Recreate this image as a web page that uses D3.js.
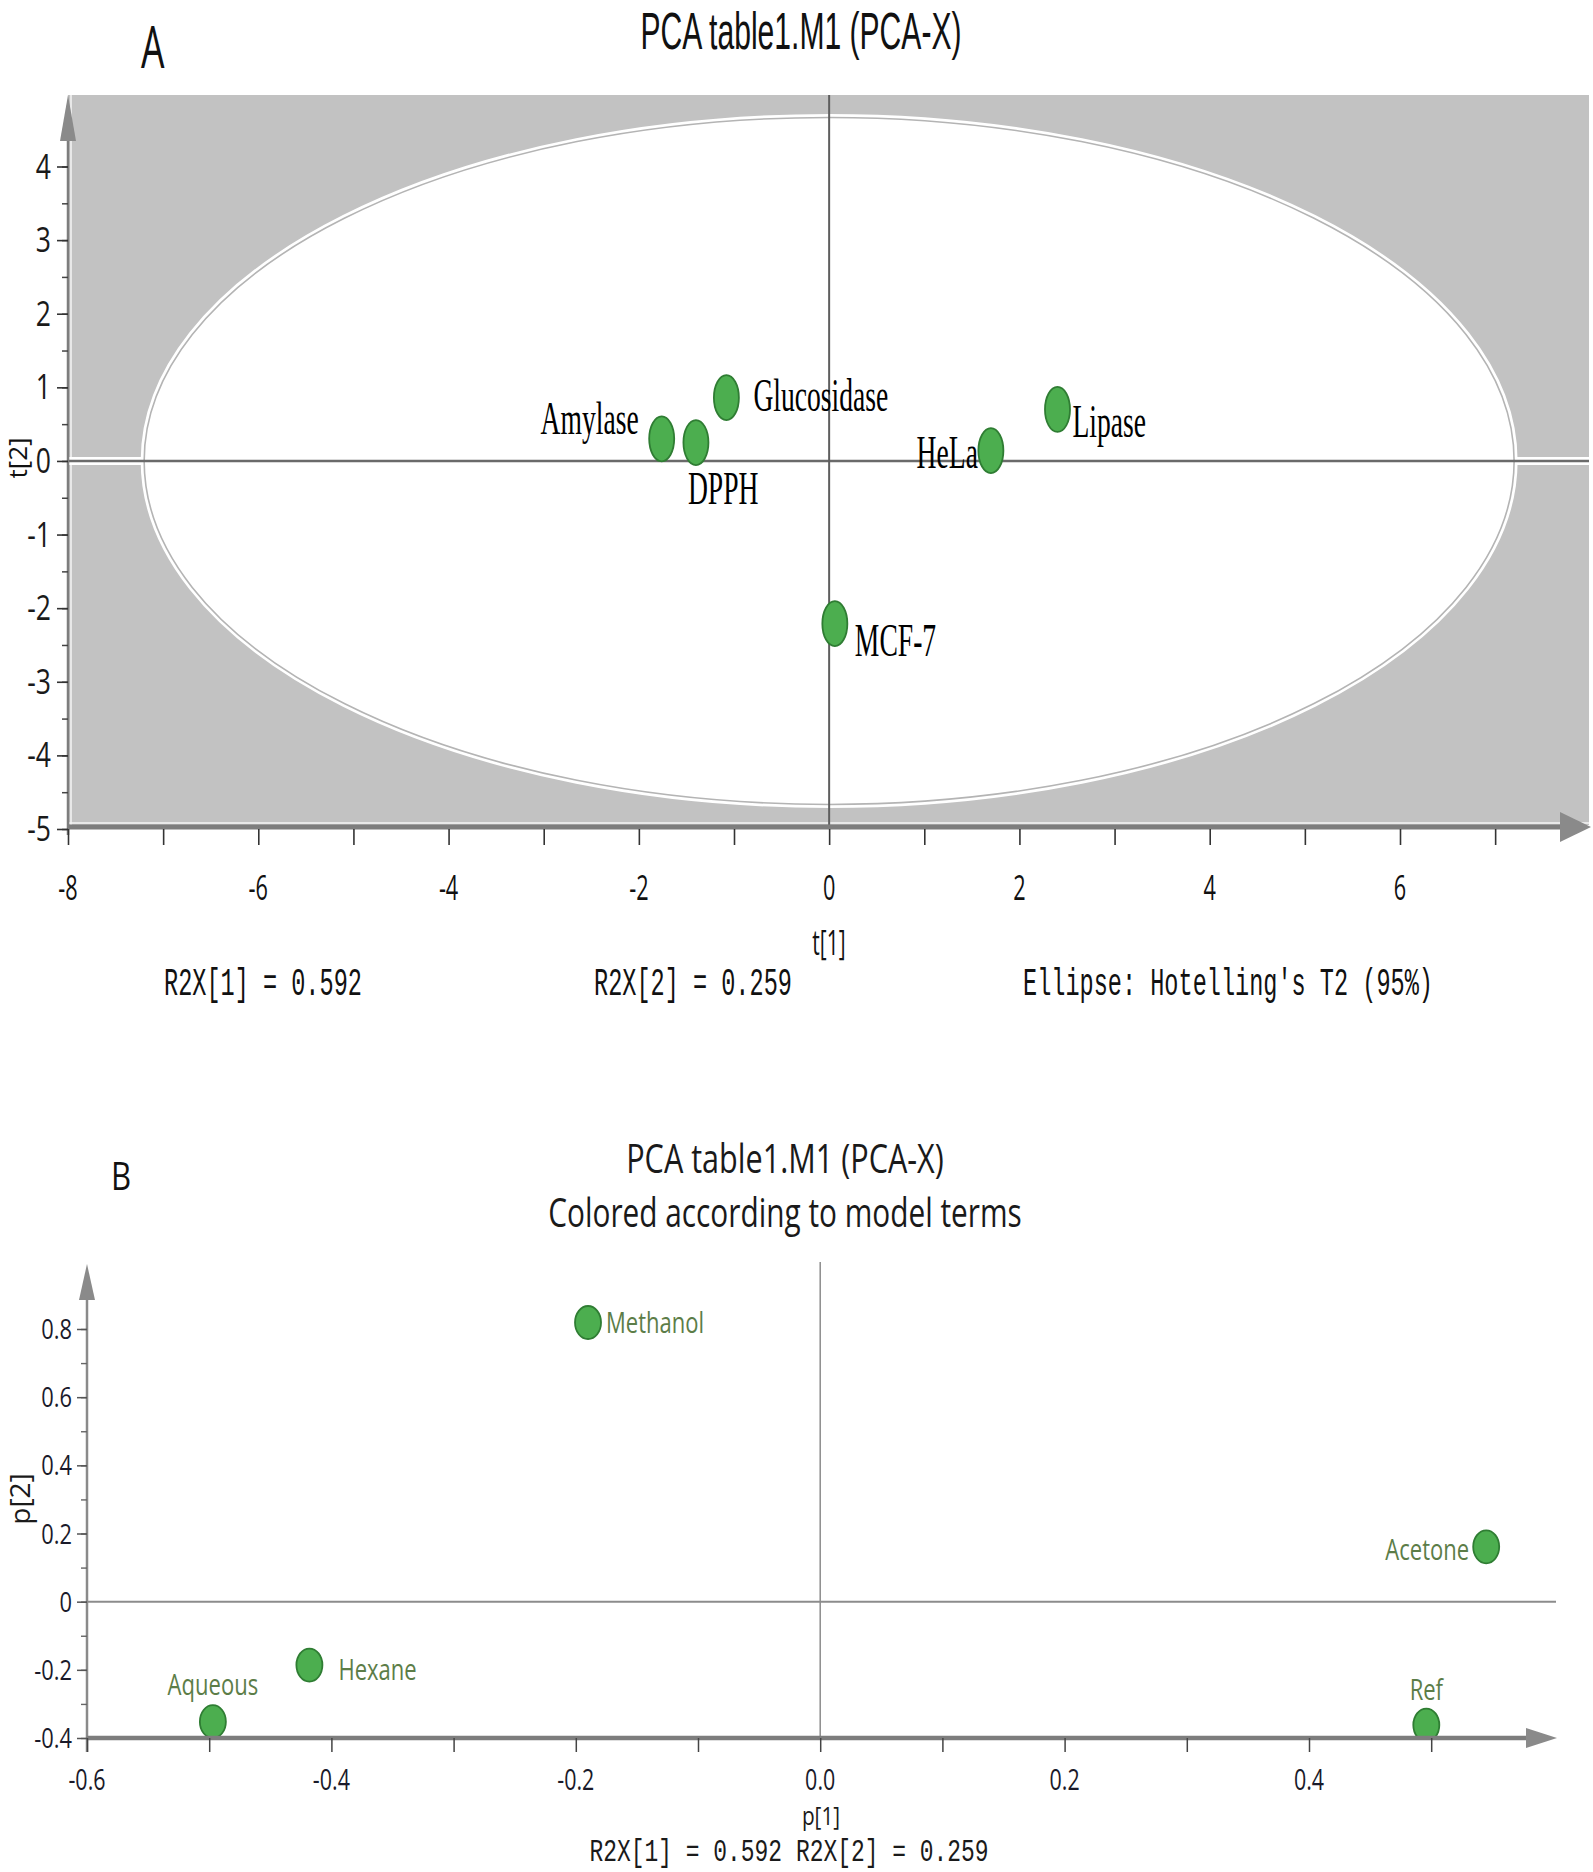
<!DOCTYPE html>
<html><head><meta charset="utf-8">
<script src="https://cdn.jsdelivr.net/npm/d3@7"></script>
<style>body{margin:0;background:#fff}svg{display:block}</style>
</head><body>
<svg id="c" width="1593" height="1872"></svg>
<script>
// ---------- DATA ----------
// Panel A: scores
const scoreNames = ["Amylase", "DPPH", "Glucosidase", "HeLa", "Lipase", "MCF-7"];
const scoreT1 = [-1.76, -1.40, -1.08, 1.70, 2.40, 0.06];
const scoreT2 = [0.30, 0.25, 0.86, 0.14, 0.70, -2.21];
const xTicksA = [-8, -6, -4, -2, 0, 2, 4, 6];
const yTicksA = [4, 3, 2, 1, 0, -1, -2, -3, -4, -5];
const ellipseRadiusT1 = 7.21;
const ellipseRadiusT2 = 4.68;
const titleA = "PCA table1.M1 (PCA-X)";
const footA = ["R2X[1] = 0.592", "R2X[2] = 0.259", "Ellipse: Hotelling's T2 (95%)"];

// Panel B: loadings
const loadNames = ["Methanol", "Acetone", "Ref", "Aqueous", "Hexane"];
const loadP1 = [-0.190, 0.545, 0.496, -0.497, -0.418];
const loadP2 = [0.819, 0.161, -0.362, -0.352, -0.186];
const xTicksB = [-0.6, -0.4, -0.2, 0.0, 0.2, 0.4];
const yTicksB = [0.8, 0.6, 0.4, 0.2, 0, -0.2, -0.4];
const titleB = ["PCA table1.M1 (PCA-X)", "Colored according to model terms"];
const footB = "R2X[1] = 0.592 R2X[2] = 0.259";

// ---------- HELPERS ----------
const svg = d3.select("#c");
function txt(g, x, y, s, o) {
  let tr = `translate(${x},${y})`;
  if (o.rot) tr += ` rotate(${o.rot})`;
  tr += ` scale(${o.sx || 1},1)`;
  return g.append("text").attr("transform", tr)
    .attr("text-anchor", o.anchor || "start")
    .attr("font-family", o.ff || "Open Sans")
    .attr("font-size", o.fs)
    .attr("fill", o.fill || "#111")
    .text(s);
}
const SANS = "'Open Sans', 'Noto Sans', sans-serif";
const ARIAL = "'Liberation Sans', Arial, sans-serif";
const SERIF = "'Liberation Serif', serif";
const MONO = "'Liberation Mono', 'DejaVu Sans Mono', monospace";

// ================= PANEL A =================
const gA = svg.append("g");
const xA = d3.scaleLinear().domain([-8, 6]).range([68, 1400]);
const yA = d3.scaleLinear().domain([-5, 4]).range([829, 166.5]);
const plotRight = 1589, plotTop = 95;

// grey background
gA.append("rect").attr("x", xA(-8)).attr("y", plotTop)
  .attr("width", plotRight - xA(-8)).attr("height", yA(-5) - 4 - plotTop)
  .attr("fill", "#c2c2c2");
gA.append("line").attr("x1", xA(-8) + 3).attr("x2", xA(-8) + 3).attr("y1", plotTop).attr("y2", yA(-5) - 4)
  .attr("stroke", "#f4f4f4").attr("stroke-width", 1.5);
gA.append("line").attr("x1", xA(-8)).attr("x2", plotRight).attr("y1", yA(-5) - 6).attr("y2", yA(-5) - 6)
  .attr("stroke", "#f4f4f4").attr("stroke-width", 1.5);

// zero horizontal line: white halo across grey
gA.append("line").attr("x1", xA(-8)).attr("x2", plotRight).attr("y1", yA(0)).attr("y2", yA(0))
  .attr("stroke", "#ffffff").attr("stroke-width", 8);

// Hotelling ellipse
const ecx = xA(0), ecy = yA(0);
const erx = xA(ellipseRadiusT1) - xA(0), ery = yA(0) - yA(ellipseRadiusT2);
gA.append("ellipse").attr("cx", ecx).attr("cy", ecy).attr("rx", erx).attr("ry", ery)
  .attr("fill", "#ffffff").attr("stroke", "#ffffff").attr("stroke-width", 5);
gA.append("ellipse").attr("cx", ecx).attr("cy", ecy).attr("rx", erx - 1).attr("ry", ery - 1)
  .attr("fill", "none").attr("stroke", "#b4b4b4").attr("stroke-width", 1.6);

// zero lines
gA.append("line").attr("x1", xA(-8)).attr("x2", plotRight).attr("y1", yA(0)).attr("y2", yA(0))
  .attr("stroke", "#6a6a6a").attr("stroke-width", 2.5);
gA.append("line").attr("x1", xA(0)).attr("x2", xA(0)).attr("y1", plotTop).attr("y2", yA(-5))
  .attr("stroke", "#5e5e5e").attr("stroke-width", 2);

// x axis line + arrow
gA.append("line").attr("x1", xA(-8)).attr("x2", 1565).attr("y1", yA(-5) - 2).attr("y2", yA(-5) - 2)
  .attr("stroke", "#7d7d7d").attr("stroke-width", 5);
gA.append("path").attr("d", `M1560,${yA(-5) - 17} L1591,${yA(-5) - 2} L1560,${yA(-5) + 13} Z`).attr("fill", "#8a8a8a");
// y axis line + arrow
gA.append("line").attr("x1", xA(-8)).attr("x2", xA(-8)).attr("y1", yA(-5) + 6).attr("y2", 138)
  .attr("stroke", "#7d7d7d").attr("stroke-width", 2.5);
gA.append("path").attr("d", `M${xA(-8)},${plotTop} L${xA(-8) - 8},${141} L${xA(-8) + 8},${141} Z`).attr("fill", "#8a8a8a");

// x ticks (minor + major)
const xAxA = d3.axisBottom(xA).tickValues(d3.range(-8, 8, 1)).tickSize(16).tickFormat("");
const gxA = gA.append("g").attr("transform", `translate(0,${yA(-5)})`).call(xAxA);
gxA.select(".domain").remove();
gxA.selectAll(".tick line").attr("stroke", "#333").attr("stroke-width", 1.6);
xTicksA.forEach(v => txt(gA, xA(v), 900, String(v), {fs: 35, sx: 0.62, anchor: "middle", ff: SANS}));

// y ticks
const yAxMinA = d3.axisLeft(yA).tickValues(d3.range(-5, 4.5, 0.5)).tickSize(6).tickFormat("");
const gyA2 = gA.append("g").attr("transform", `translate(${xA(-8)},0)`).call(yAxMinA);
gyA2.select(".domain").remove();
gyA2.selectAll(".tick line").attr("stroke", "#444").attr("stroke-width", 1.5);
const yAxA = d3.axisLeft(yA).tickValues(yTicksA).tickSize(11).tickFormat("");
const gyA = gA.append("g").attr("transform", `translate(${xA(-8)},0)`).call(yAxA);
gyA.select(".domain").remove();
gyA.selectAll(".tick line").attr("stroke", "#333").attr("stroke-width", 1.6);
yTicksA.forEach(v => txt(gA, 51, yA(v) + 12, String(v), {fs: 34, sx: 0.78, anchor: "end", ff: SANS, fill: "#1a1a1a"}));

// axis titles
txt(gA, 27, 458, "t[2]", {fs: 26, rot: -90, anchor: "middle", ff: SANS});
txt(gA, 829, 955, "t[1]", {fs: 34, sx: 0.62, anchor: "middle", ff: SANS});

// title and panel letter
txt(gA, 801, 49, titleA, {fs: 51, sx: 0.59, anchor: "middle", ff: ARIAL});
txt(gA, 141, 68, "A", {fs: 58, sx: 0.64, ff: SANS});

// footer
txt(gA, 164, 995, footA[0], {fs: 38, sx: 0.62, ff: MONO});
txt(gA, 594, 995, footA[1], {fs: 38, sx: 0.62, ff: MONO});
txt(gA, 1023, 995, footA[2], {fs: 38, sx: 0.62, ff: MONO});

// points + labels
const placeA = {
  "Amylase": {dx: -23, dy: -5, a: "end"},
  "DPPH": {dx: -8, dy: 61, a: "start"},
  "Glucosidase": {dx: 27, dy: 13, a: "start"},
  "HeLa": {dx: -13, dy: 17, a: "end"},
  "Lipase": {dx: 15, dy: 28, a: "start"},
  "MCF-7": {dx: 20, dy: 32, a: "start"}
};
scoreNames.forEach((n, i) => {
  const cx = xA(scoreT1[i]), cy = yA(scoreT2[i]);
  const p = placeA[n];
  txt(gA, cx + p.dx, cy + p.dy, n, {fs: 46, sx: 0.6, anchor: p.a, ff: SERIF, fill: "#000"});
});
scoreNames.forEach((n, i) => {
  gA.append("ellipse").attr("cx", xA(scoreT1[i])).attr("cy", yA(scoreT2[i]))
    .attr("rx", 12.5).attr("ry", 22.5)
    .attr("fill", "#4cae4f").attr("stroke", "#2f7d33").attr("stroke-width", 1.8);
});

// ================= PANEL B =================
const gB = svg.append("g");
const xB = d3.scaleLinear().domain([-0.6, 0.4]).range([87, 1309]);
const yB = d3.scaleLinear().domain([-0.4, 0.8]).range([1738, 1329]);

// titles
txt(gB, 785, 1173, titleB[0], {fs: 40, sx: 0.765, anchor: "middle", ff: SANS, fill: "#1a1a1a"});
txt(gB, 785, 1227, titleB[1], {fs: 40, sx: 0.745, anchor: "middle", ff: SANS, fill: "#1a1a1a"});
txt(gB, 111, 1190, "B", {fs: 38, sx: 0.82, ff: SANS, fill: "#111"});

// zero lines
gB.append("line").attr("x1", xB(-0.6)).attr("x2", 1556).attr("y1", yB(0)).attr("y2", yB(0))
  .attr("stroke", "#8c8c8c").attr("stroke-width", 2);
gB.append("line").attr("x1", xB(0)).attr("x2", xB(0)).attr("y1", 1262).attr("y2", yB(-0.4))
  .attr("stroke", "#8c8c8c").attr("stroke-width", 1.5);

// y axis + arrow
gB.append("line").attr("x1", xB(-0.6)).attr("x2", xB(-0.6)).attr("y1", yB(-0.4) + 14).attr("y2", 1298)
  .attr("stroke", "#8a8a8a").attr("stroke-width", 2.5);
gB.append("path").attr("d", `M${xB(-0.6)},1264 L${xB(-0.6) - 8},1300 L${xB(-0.6) + 8},1300 Z`).attr("fill", "#8a8a8a");
const yAxMinB = d3.axisLeft(yB).tickValues(d3.range(-4, 9, 1).map(v => v / 10)).tickSize(6).tickFormat("");
const gyB2 = gB.append("g").attr("transform", `translate(${xB(-0.6)},0)`).call(yAxMinB);
gyB2.select(".domain").remove();
gyB2.selectAll(".tick line").attr("stroke", "#666").attr("stroke-width", 1.4);
const yAxB = d3.axisLeft(yB).tickValues(yTicksB).tickSize(10).tickFormat("");
const gyB = gB.append("g").attr("transform", `translate(${xB(-0.6)},0)`).call(yAxB);
gyB.select(".domain").remove();
gyB.selectAll(".tick line").attr("stroke", "#555").attr("stroke-width", 1.5);
yTicksB.forEach(v => txt(gB, 72, yB(v) + 10, String(v), {fs: 28, sx: 0.78, anchor: "end", ff: SANS, fill: "#1a1a2a"}));
txt(gB, 30, 1499, "p[2]", {fs: 28, rot: -90, anchor: "middle", ff: SANS, fill: "#1a1a1a"});

// points (clipped to plot area above x axis)
svg.append("clipPath").attr("id", "clipB").append("rect")
  .attr("x", xB(-0.6)).attr("y", 1260).attr("width", 1556 - xB(-0.6)).attr("height", yB(-0.4) - 1260);
const placeB = {
  "Methanol": {dx: 18, dy: 10, a: "start"},
  "Acetone": {dx: -17, dy: 13, a: "end"},
  "Ref": {dx: 0, dy: -25, a: "middle"},
  "Aqueous": {dx: 0, dy: -27, a: "middle"},
  "Hexane": {dx: 29, dy: 15, a: "start"}
};
loadNames.forEach((n, i) => {
  const cx = xB(loadP1[i]), cy = yB(loadP2[i]);
  const p = placeB[n];
  txt(gB, cx + p.dx, cy + p.dy, n, {fs: 29, sx: 0.76, anchor: p.a, ff: SANS, fill: "#5c7d48"});
});
const gPts = gB.append("g").attr("clip-path", "url(#clipB)");
loadNames.forEach((n, i) => {
  gPts.append("ellipse").attr("cx", xB(loadP1[i])).attr("cy", yB(loadP2[i]))
    .attr("rx", 13).attr("ry", 16.5)
    .attr("fill", "#4cae4f").attr("stroke", "#2f7d33").attr("stroke-width", 1.8);
});

// x axis + arrow
gB.append("line").attr("x1", xB(-0.6)).attr("x2", 1530).attr("y1", yB(-0.4)).attr("y2", yB(-0.4))
  .attr("stroke", "#7d7d7d").attr("stroke-width", 4.5);
gB.append("path").attr("d", `M1526,${yB(-0.4) - 10} L1557,${yB(-0.4)} L1526,${yB(-0.4) + 10} Z`).attr("fill", "#8a8a8a");
const xAxB = d3.axisBottom(xB).tickValues(d3.range(-6, 6, 1).map(v => v / 10)).tickSize(14).tickFormat("");
const gxB = gB.append("g").attr("transform", `translate(0,${yB(-0.4)})`).call(xAxB);
gxB.select(".domain").remove();
gxB.selectAll(".tick line").attr("stroke", "#444").attr("stroke-width", 1.5);
xTicksB.forEach(v => txt(gB, xB(v), 1790, v.toFixed(1), {fs: 29, sx: 0.74, anchor: "middle", ff: SANS, fill: "#1a1a2a"}));

txt(gB, 821, 1825, "p[1]", {fs: 26, sx: 0.8, anchor: "middle", ff: SANS, fill: "#1a1a1a"});
txt(gB, 789, 1861, footB, {fs: 31, sx: 0.74, anchor: "middle", ff: MONO, fill: "#1a1a1a"});
</script>
</body></html>
